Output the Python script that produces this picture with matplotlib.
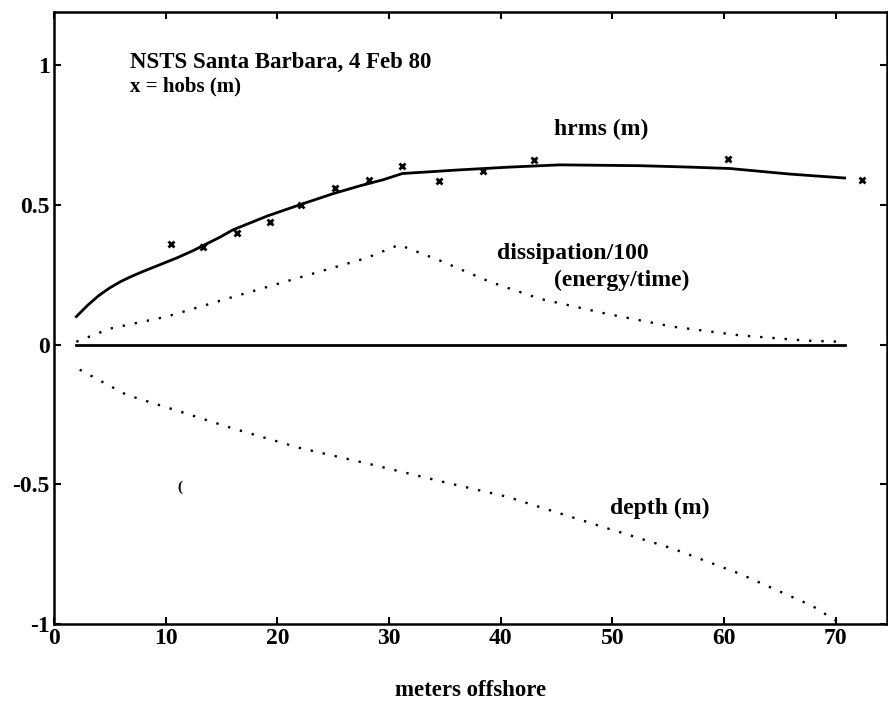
import matplotlib
matplotlib.use("Agg")
import matplotlib.pyplot as plt

# hrms model (m)
hrms_x = [2.0, 3.0, 4.0, 5.0, 6.0, 7.0, 8.0, 9.0, 10.0, 11.0, 12.4, 14.9, 16.0, 19.1, 22.0, 25.0, 27.4, 29.5, 31.2, 36.3, 40.8, 45.3, 52.5, 56.9, 60.5, 65.9, 70.8]
hrms_y = [0.10, 0.14, 0.175, 0.203, 0.226, 0.245, 0.262, 0.278, 0.294, 0.31, 0.335, 0.385, 0.41, 0.46, 0.50, 0.54, 0.568, 0.59, 0.612, 0.625, 0.635, 0.643, 0.64, 0.635, 0.63, 0.61, 0.596]

# observed hrms (hobs)
hobs_x = [10.5, 13.3, 16.4, 19.3, 22.1, 25.2, 28.2, 31.2, 34.5, 38.4, 43.0, 60.4, 72.4]
hobs_y = [0.36, 0.35, 0.40, 0.44, 0.50, 0.56, 0.59, 0.64, 0.585, 0.62, 0.66, 0.665, 0.59]

# dissipation / 100
diss_x = [2.0, 5.0, 10.1, 16.0, 22.0, 28.0, 30.9, 34.6, 39.0, 43.5, 49.5, 55.4, 61.4, 67.4, 70.4]
diss_y = [0.01, 0.057, 0.10, 0.17, 0.24, 0.31, 0.357, 0.30, 0.225, 0.164, 0.11, 0.064, 0.033, 0.014, 0.01]

# depth (m)
depth_x = [2.3, 6.5, 11.3, 16.0, 22.0, 28.0, 34.7, 40.6, 49.5, 55.4, 61.4, 67.9, 70.1]
depth_y = [-0.09, -0.18, -0.24, -0.30, -0.37, -0.425, -0.49, -0.545, -0.657, -0.73, -0.82, -0.935, -0.99]

# zero line
zero_x = [2.0, 70.8]
zero_y = [0.0, 0.0]

xticks = [0, 10, 20, 30, 40, 50, 60, 70]
yticks = [-1, -0.5, 0, 0.5, 1]
ytick_labels = ["-1", "-0.5", "0", "0.5", "1"]

plt.rcParams['font.family'] = ['Liberation Serif', 'DejaVu Serif']
plt.rcParams['font.weight'] = 'bold'

fig = plt.figure(figsize=(8.88, 7.09), dpi=100)
ax = fig.add_axes([54 / 888, 85 / 709, 833 / 888, (624 - 12) / 709])

ax.plot(hrms_x, hrms_y, color='black', lw=2.0)
ax.plot(zero_x, zero_y, color='black', lw=2.0)
ax.plot(diss_x, diss_y, color='black', lw=1.7, linestyle=(0, (1, 4.2)))
ax.plot(depth_x, depth_y, color='black', lw=1.7, linestyle=(0, (1, 4.2)))
ax.plot(hobs_x, hobs_y, linestyle='none', marker='x', color='black', ms=4.5, mew=2)

ax.set_xlim(0, 74.6)
ax.set_ylim(-1, 1.19)
ax.set_xticks(xticks)
ax.set_yticks(yticks)
ax.set_yticklabels(ytick_labels)
ax.tick_params(direction='in', top=True, right=True, length=5, width=1.5, labelsize=17, pad=3)
for lbl in ax.get_xticklabels() + ax.get_yticklabels():
    lbl.set_fontweight('bold')
for s in ax.spines.values():
    s.set_linewidth(1.8)

ax.set_xlabel('meters offshore', fontsize=16.5, fontweight='bold', labelpad=22)

ax.text(6.8, 1.01, 'NSTS Santa Barbara, 4 Feb 80', fontsize=16.5, fontweight='bold', va='center')
ax.text(6.8, 0.925, 'x = hobs (m)', fontsize=15, fontweight='bold', va='center')
ax.text(44.8, 0.77, 'hrms (m)', fontsize=17, fontweight='bold', va='center', ha='left')
ax.text(39.7, 0.327, 'dissipation/100', fontsize=17, fontweight='bold', va='center', ha='left')
ax.text(44.8, 0.23, '(energy/time)', fontsize=17, fontweight='bold', va='center', ha='left')
ax.text(49.8, -0.585, 'depth (m)', fontsize=17, fontweight='bold', va='center', ha='left')
ax.text(11.3, -0.51, '(', fontsize=11, fontweight='bold', va='center', ha='center')

fig.savefig('out.png', dpi=100)
